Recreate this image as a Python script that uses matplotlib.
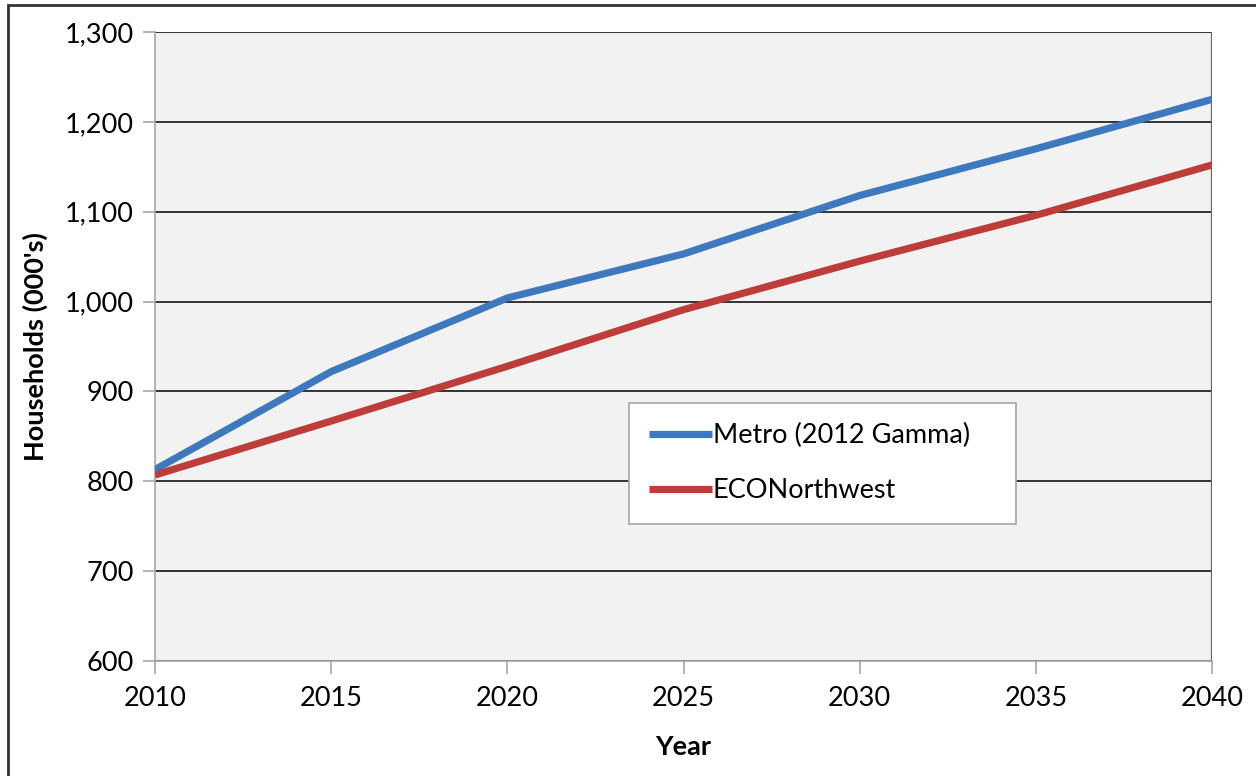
import matplotlib.pyplot as plt
from matplotlib.ticker import FuncFormatter
from matplotlib.patches import Rectangle

# data
years = [2010, 2015, 2020, 2025, 2030, 2035, 2040]
metro = [813, 922, 1004, 1053, 1118, 1170, 1225]
econw = [807, 867, 928, 991, 1045, 1096, 1152]
series_names = ["Metro (2012 Gamma)", "ECONorthwest"]

plt.rcParams['font.family'] = ['Lato', 'DejaVu Sans']

fig = plt.figure(figsize=(12.56, 7.76), dpi=100)
ax = fig.add_axes([0.1234, 0.1482, 0.8416, 0.8106])
ax.set_facecolor('#f2f2f2')

ax.plot(years, metro, color='#3e78bd', lw=5.2, label=series_names[0],
        solid_capstyle='butt', zorder=3)
ax.plot(years, econw, color='#bd3d3a', lw=5.2, label=series_names[1],
        solid_capstyle='butt', zorder=3)

ax.set_xlim(2010, 2040)
ax.set_ylim(600, 1300)
ax.set_xticks(years)
ax.set_yticks(range(600, 1301, 100))
ax.yaxis.set_major_formatter(FuncFormatter(lambda v, p: "{:,.0f}".format(v)))
ax.grid(axis='y', color='black', lw=1.1, zorder=1)
ax.set_axisbelow(True)

for s in ['top', 'right']:
    ax.spines[s].set_visible(False)
ax.spines['left'].set_color('#a6a6a6')
ax.spines['bottom'].set_color('#a6a6a6')
ax.spines['left'].set_linewidth(1.2)
ax.spines['bottom'].set_linewidth(1.2)
ax.axvline(2040, color='#666666', lw=1.6, zorder=2)
ax.tick_params(axis='both', direction='out', length=9, width=1.2,
               color='#a6a6a6', labelsize=19.5, pad=6)
ax.tick_params(axis='x', pad=9)

ax.set_xlabel('Year', fontsize=19.5, fontweight='bold', labelpad=17)
ax.set_ylabel("Households (000's)", fontsize=19.5, fontweight='bold', labelpad=12)

leg = ax.legend(loc='upper left', bbox_to_anchor=(0.4484, 0.224, 0.3662, 0.186),
                mode='expand', fontsize=19.5, handlelength=2.3, handletextpad=0.05,
                labelspacing=1.1, borderpad=0.75, fancybox=False, framealpha=1,
                borderaxespad=0)
leg.get_frame().set_edgecolor('#a6a6a6')
leg.get_frame().set_linewidth(1.2)

# outer chart border
fig.patches.append(Rectangle((0.006, -0.01), 1.0, 1.003, transform=fig.transFigure,
                             fill=False, edgecolor='#333333', lw=2))

fig.savefig('out.png', dpi=100)
